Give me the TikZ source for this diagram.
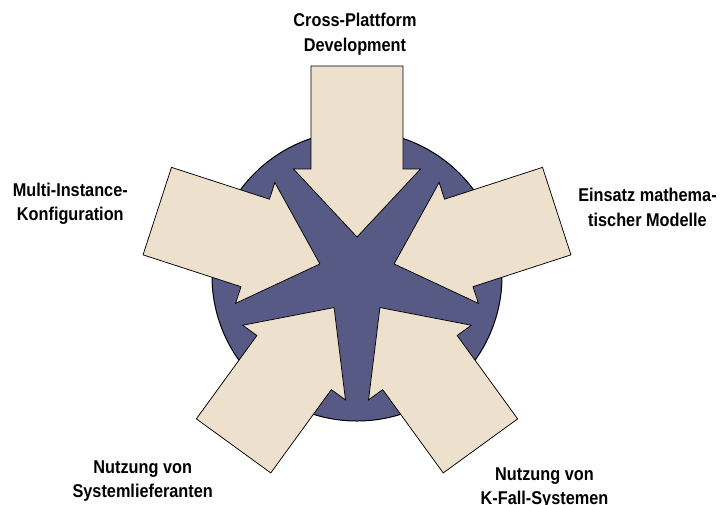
\documentclass[tikz,border=0pt]{standalone}
\usepackage{fontspec}
\newfontfamily\labelfont{Liberation Sans}[FakeStretch=0.88]
\definecolor{circleblue}{RGB}{87,90,132}
\definecolor{arrowbeige}{RGB}{237,225,205}

\begin{document}
\begin{tikzpicture}[x=1pt,y=1pt,yscale=-1,
  arrowshape/.style={fill=arrowbeige,draw=black,line width=0.75pt},
  txt/.style={anchor=base,align=center,inner sep=0pt,font=\labelfont\bfseries\fontsize{18.5}{24.5}\selectfont}]
\useasboundingbox (0,0) rectangle (720,504);
\coordinate (m) at (357,276);
\draw[fill=circleblue,line width=1pt] (m) circle (145);
\foreach \a in {0,72,144,216,288}
  \draw[arrowshape,shift={(m)},rotate=\a] (-46,-210) -- (46,-210) -- (46,-107) -- (63.5,-107) -- (0,-39) -- (-63.5,-107) -- (-46,-107) -- cycle;

% anchor=base sits on the last line
\node[txt] (cpd) at (355,51) {Cross-Plattform\\Development};
\node[txt] (mic) at (70.3,220.5) {Multi-Instance-\\Konfiguration};
\node[txt] (emm) at (647.5,226.2) {Einsatz mathema-\\tischer Modelle};
\node[txt] (nvs) at (142.7,497.8) {Nutzung von\\Systemlieferanten};
\node[txt] (nvk) at (544.5,504.5) {Nutzung von\\K-Fall-Systemen};
\end{tikzpicture}
\end{document}
